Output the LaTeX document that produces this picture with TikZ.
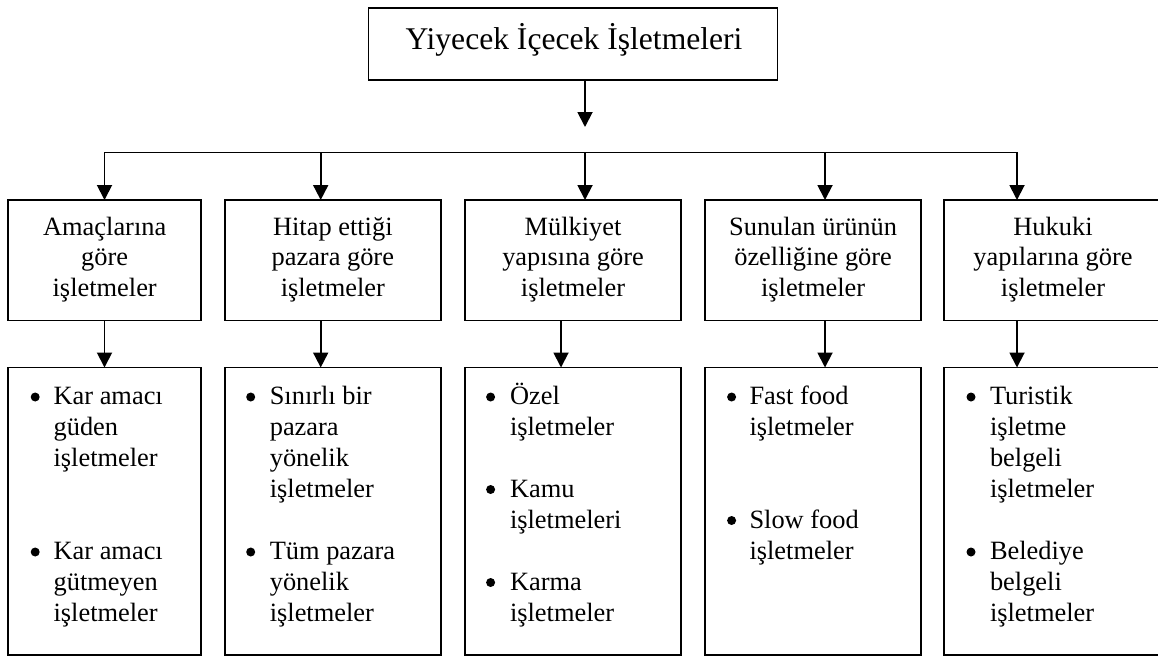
\documentclass[tikz,border=0pt]{standalone}
\usepackage{fontspec}
\setmainfont{Liberation Serif}
\usetikzlibrary{arrows.meta}
\begin{document}
\begin{tikzpicture}[x=1pt,y=-1pt,
  box/.style={draw,line width=1.9pt,inner sep=0pt,outer sep=0pt,rectangle},
  arr/.style={line width=1.9pt,-{Triangle[length=15pt,width=15pt]}},
  ln/.style={line width=1.9pt},
  lvl/.style={inner sep=0pt,outer sep=0pt,font=\fontsize{26.4}{30.5}\selectfont},
  ttl/.style={inner sep=0pt,outer sep=0pt,font=\fontsize{31.6}{36}\selectfont},
  bdot/.style={circle,fill,inner sep=0pt,minimum size=9pt}]
\useasboundingbox (0,0) rectangle (1158,657);

% top box
\node[box,minimum width=409pt,minimum height=72pt] (top) at (573,44) {};
\node[ttl,anchor=base] (toptxt) at (574,49.3) {Yiyecek İçecek İşletmeleri};

% level 2 boxes
\node[box,minimum width=192.6pt,minimum height=120.5pt] (b1) at (104.7,260.25) {};
\node[box,minimum width=216.4pt,minimum height=120.5pt] (b2) at (332.8,260.25) {};
\node[box,minimum width=216.7pt,minimum height=120.5pt] (b3) at (572.95,260.25) {};
\node[box,minimum width=216.2pt,minimum height=120.5pt] (b4) at (813.1,260.25) {};
\node[box,minimum width=217.6pt,minimum height=120.5pt] (b5) at (1053.2,260.25) {};

% level 3 boxes
\node[box,minimum width=192.6pt,minimum height=287.5pt] (c1) at (104.7,511.25) {};
\node[box,minimum width=216.4pt,minimum height=287.5pt] (c2) at (332.8,511.25) {};
\node[box,minimum width=216.7pt,minimum height=287.5pt] (c3) at (572.95,511.25) {};
\node[box,minimum width=216.2pt,minimum height=287.5pt] (c4) at (813.1,511.25) {};
\node[box,minimum width=217.6pt,minimum height=287.5pt] (c5) at (1053.2,511.25) {};

% level 2 texts
\node[lvl,anchor=base] (b1t1) at (104.7,235) {Amaçlarına};
\node[lvl,anchor=base] (b1t2) at (104.7,265.5) {göre};
\node[lvl,anchor=base] (b1t3) at (104.7,296) {işletmeler};
\node[lvl,anchor=base] (b2t1) at (332.8,235) {Hitap ettiği};
\node[lvl,anchor=base] (b2t2) at (332.8,265.5) {pazara göre};
\node[lvl,anchor=base] (b2t3) at (332.8,296) {işletmeler};
\node[lvl,anchor=base] (b3t1) at (573,235) {Mülkiyet};
\node[lvl,anchor=base] (b3t2) at (573,265.5) {yapısına göre};
\node[lvl,anchor=base] (b3t3) at (573,296) {işletmeler};
\node[lvl,anchor=base] (b4t1) at (813.1,235) {Sunulan ürünün};
\node[lvl,anchor=base] (b4t2) at (813.1,265.5) {özelliğine göre};
\node[lvl,anchor=base] (b4t3) at (813.1,296) {işletmeler};
\node[lvl,anchor=base] (b5t1) at (1053,235) {Hukuki};
\node[lvl,anchor=base] (b5t2) at (1053,265.5) {yapılarına göre};
\node[lvl,anchor=base] (b5t3) at (1053,296) {işletmeler};

% connectors
\coordinate (tt) at (585,127);
\draw[arr] (top.south -| tt) -- (tt);
\coordinate (j1) at (104.5,152.5);
\coordinate (j2) at (320.7,152.5);
\coordinate (j3) at (585,152.5);
\coordinate (j4) at (825,152.5);
\coordinate (j5) at (1017,152.5);
\draw[ln,line cap=rect] (j1) -- (j5);
\foreach \i in {1,...,5} \draw[arr] (j\i) -- (j\i |- b\i.north);
\coordinate (k1) at (104.5,320);
\coordinate (k2) at (320.7,320);
\coordinate (k3) at (561,320);
\coordinate (k4) at (825,320);
\coordinate (k5) at (1017,320);
\foreach \i in {1,...,5} \draw[arr] (b\i.south -| k\i) -- (k\i |- c\i.north);

% level 3 bullets and texts
% box 1
\node[bdot] (d1a) at (35.2,397) {};
\node[lvl,anchor=base west] (c1a1) at (53.6,404.5) {Kar amacı};
\node[lvl,anchor=base west] (c1a2) at (53.6,435) {güden};
\node[lvl,anchor=base west] (c1a3) at (53.6,466) {işletmeler};
\node[bdot] (d1b) at (35.2,552) {};
\node[lvl,anchor=base west] (c1b1) at (53.6,559.5) {Kar amacı};
\node[lvl,anchor=base west] (c1b2) at (53.6,590) {gütmeyen};
\node[lvl,anchor=base west] (c1b3) at (53.6,621) {işletmeler};
% box 2
\node[bdot] (d2a) at (250.7,397) {};
\node[lvl,anchor=base west] (c2a1) at (269.8,404.5) {Sınırlı bir};
\node[lvl,anchor=base west] (c2a2) at (269.8,435) {pazara};
\node[lvl,anchor=base west] (c2a3) at (269.8,466) {yönelik};
\node[lvl,anchor=base west] (c2a4) at (269.8,497) {işletmeler};
\node[bdot] (d2b) at (250.7,552) {};
\node[lvl,anchor=base west] (c2b1) at (269.8,559.5) {Tüm pazara};
\node[lvl,anchor=base west] (c2b2) at (269.8,590) {yönelik};
\node[lvl,anchor=base west] (c2b3) at (269.8,621) {işletmeler};
% box 3
\node[bdot] (d3a) at (490.6,397) {};
\node[lvl,anchor=base west] (c3a1) at (510,404.5) {Özel};
\node[lvl,anchor=base west] (c3a2) at (510,435) {işletmeler};
\node[bdot] (d3b) at (490.6,489.5) {};
\node[lvl,anchor=base west] (c3b1) at (510,497) {Kamu};
\node[lvl,anchor=base west] (c3b2) at (510,528) {işletmeleri};
\node[bdot] (d3c) at (490.6,582.5) {};
\node[lvl,anchor=base west] (c3c1) at (510,590) {Karma};
\node[lvl,anchor=base west] (c3c2) at (510,621) {işletmeler};
% box 4
\node[bdot] (d4a) at (731.6,397) {};
\node[lvl,anchor=base west] (c4a1) at (749.5,404.5) {Fast food};
\node[lvl,anchor=base west] (c4a2) at (749.5,435) {işletmeler};
\node[bdot] (d4b) at (731.6,520.5) {};
\node[lvl,anchor=base west] (c4b1) at (749.5,528) {Slow food};
\node[lvl,anchor=base west] (c4b2) at (749.5,559.5) {işletmeler};
% box 5
\node[bdot] (d5a) at (971,397) {};
\node[lvl,anchor=base west] (c5a1) at (990,404.5) {Turistik};
\node[lvl,anchor=base west] (c5a2) at (990,435) {işletme};
\node[lvl,anchor=base west] (c5a3) at (990,466) {belgeli};
\node[lvl,anchor=base west] (c5a4) at (990,497) {işletmeler};
\node[bdot] (d5b) at (971,552) {};
\node[lvl,anchor=base west] (c5b1) at (990,559.5) {Belediye};
\node[lvl,anchor=base west] (c5b2) at (990,590) {belgeli};
\node[lvl,anchor=base west] (c5b3) at (990,621) {işletmeler};
\end{tikzpicture}
\end{document}
